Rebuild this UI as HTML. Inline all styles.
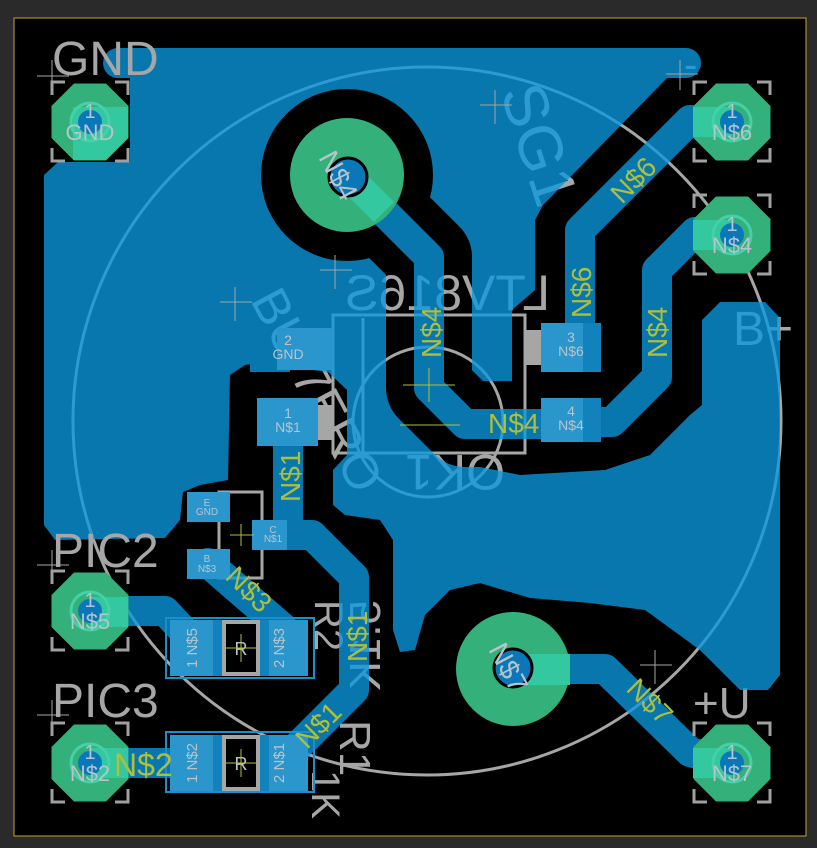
<!DOCTYPE html>
<html><head><meta charset="utf-8"><style>
html,body{margin:0;padding:0;background:#2a2a2a;}
svg{display:block;}
text{font-family:"Liberation Sans",sans-serif;}
</style></head><body>
<svg width="817" height="848" viewBox="0 0 817 848" xmlns="http://www.w3.org/2000/svg">
<defs>
<mask id="cu">
  <rect x="0" y="0" width="817" height="848" fill="black"/>
  <line x1="118" y1="63" x2="686" y2="63" stroke="white" stroke-width="30" stroke-linecap="round"/>
  <polygon fill="white" points="44,175 58,162 130,162 130,78 667,78 543,205 535,220 535,290 512,310 512,385 455,385 455,462 520,475 605,470 650,455 690,415 702,405 702,320 720,302 765,302 780,318 780,675 768,690 740,690 700,650 645,610 590,603 530,598 480,583 450,590 425,615 415,650 400,652 393,630 393,540 380,520 345,515 333,505 333,470 347,455 347,390 328,372 258,363 245,365 230,375 228,480 200,485 183,492 180,520 165,538 55,540 44,525"/>
  <circle cx="347" cy="175" r="86" fill="black"/>
  <polyline points="347,175 429,257 429,388 465,424 560,424" fill="none" stroke="black" stroke-width="86" stroke-linejoin="round"/>
  <g fill="none" stroke="white" stroke-width="30" stroke-linejoin="round" stroke-linecap="round">
    <polyline points="347,175 429,257 429,388 465,424 560,424"/>
    <polyline points="600,422 612,422 657,377 657,270 695,232 732,235"/>
    <polyline points="580,335 580,230 690,120 732,122"/>
    <polyline points="288,420 288,520"/>
    <polyline points="287,535 312,535 354,577 354,690 298,746 285,760"/>
    <polyline points="208,563 283,628"/>
    <polyline points="90,611 165,611 192,640"/>
    <polyline points="90,763 180,763"/>
    <polyline points="513,669 605,669 690,752 732,763"/>
  </g>
  <rect x="250" y="330" width="40" height="42" fill="white"/>
</mask>
</defs>

<!-- board -->
<rect x="14" y="18" width="792" height="818" fill="#000" stroke="#c8a030" stroke-width="1"/>

<!-- silkscreen (under copper) -->
<g fill="none" stroke="#a6a6a6" stroke-width="3">
  <circle cx="427" cy="421" r="354"/>
  <circle cx="428" cy="422" r="75"/>
  <rect x="333" y="315" width="192" height="138"/>
  <line x1="363" y1="318" x2="363" y2="452"/>
  <rect x="219" y="492" width="43" height="86"/>
</g>
<rect x="524" y="330" width="17" height="35" fill="#a6a6a6"/>
<rect x="318" y="405" width="15" height="35" fill="#a6a6a6"/>
<g fill="#a6a6a6" font-size="62">
  <text transform="translate(500,92) rotate(72)">SG1</text>
  <text transform="translate(885,0) scale(-1,1)" x="335" y="310" font-size="50">LTV816S</text>
  <text transform="translate(505,455) rotate(180)" font-size="50">OK1</text>
  <text transform="translate(250,300) rotate(62)" font-size="50">BU-7ERO</text>
  <text transform="translate(380,600) rotate(-90) scale(-1,1)" font-size="44">5.1K</text>
  <text transform="translate(315,600) rotate(90)" font-size="40">R2</text>
  <text transform="translate(340,720) rotate(90)" font-size="44">R1</text>
  <text transform="translate(312,770) rotate(90)" font-size="40">1K</text>
  <text x="733" y="345" font-size="48">B+</text>
  <text x="693" y="718" font-size="44">+U</text>
  <text x="684" y="78" font-size="40">-</text>
</g>

<!-- copper top layer -->
<g opacity="0.78">
  <rect x="0" y="0" width="817" height="848" fill="rgb(9,153,223)" mask="url(#cu)"/>
</g>

<!-- silk labels on top -->
<g fill="#a6a6a6">
  <text x="52" y="75" font-size="48">GND</text>
  <text x="52" y="567" font-size="48">PIC2</text>
  <text x="52" y="717" font-size="48">PIC3</text>
</g>
<g stroke="#a6a6a6" stroke-width="1" fill="none">
  <path d="M37,76h32M52,60v34M37,565h32M52,550v34M37,715h32M52,700v34M666,74h32M680,60v30M275,818"/>
  <path d="M480,105h32M495,90v34M320,270h32M335,255v34M220,302h32M235,287v34M640,665h32M655,650v34"/>
</g>

<!-- bracket outlines -->
<g fill="none" stroke="#a0a0a0" stroke-width="3">
  <path d="M52,95V82h13M115,82h13v13M128,148v13h-13M65,161H52v-13"/>
  <path d="M52,584v-13h13M115,571h13v13M128,637v13h-13M65,650H52v-13"/>
  <path d="M52,736v-13h13M115,723h13v13M128,789v13h-13M65,802H52v-13"/>
  <path d="M694,95V82h13M757,82h13v13M770,148v13h-13M707,161h-13v-13"/>
  <path d="M694,208v-13h13M757,195h13v13M770,261v13h-13M707,274h-13v-13"/>
  <path d="M694,736v-13h13M757,723h13v13M770,789v13h-13M707,802h-13v-13"/>
</g>

<!-- THT pads -->
<g fill="#34b07a">
  <polygon points="74,83.5 106,83.5 128.5,106 128.5,138 106,160.5 74,160.5 51.5,138 51.5,106"/>
  <polygon points="74,572.5 106,572.5 128.5,595 128.5,627 106,649.5 74,649.5 51.5,627 51.5,595"/>
  <polygon points="74,724.5 106,724.5 128.5,747 128.5,779 106,801.5 74,801.5 51.5,779 51.5,747"/>
  <polygon points="716,83.5 748,83.5 770.5,106 770.5,138 748,160.5 716,160.5 693.5,138 693.5,106"/>
  <polygon points="716,196.5 748,196.5 770.5,219 770.5,251 748,273.5 716,273.5 693.5,251 693.5,219"/>
  <polygon points="716,724.5 748,724.5 770.5,747 770.5,779 748,801.5 716,801.5 693.5,779 693.5,747"/>
  <circle cx="347" cy="175" r="57"/>
  <circle cx="513" cy="669" r="57"/>
</g>
<g fill="#33c8a0">
  <polygon points="73,107 128,107 128,138 106,160 73,160"/>
  <polygon points="90,597 128,597 128,627 90,627"/>
  <polygon points="90,748 128,748 128,778 90,778"/>
  <polygon points="693,107 732,107 732,137 693,137"/>
  <polygon points="693,220 732,220 732,250 693,250"/>
  <polygon points="693,748 732,748 732,778 693,778"/>
  <polygon points="337,185 357,165 394,202 374,222"/>
  <rect x="513" y="654" width="57" height="31"/>
</g>
<g fill="none" stroke="#45d0a8" stroke-width="3">
  <circle cx="90" cy="122" r="19"/><circle cx="90" cy="611" r="19"/><circle cx="90" cy="763" r="19"/>
  <circle cx="732" cy="122" r="19"/><circle cx="732" cy="235" r="19"/><circle cx="732" cy="763" r="19"/>
</g>
<g fill="#0a78b8">
  <circle cx="90" cy="122" r="12"/><circle cx="90" cy="611" r="12"/><circle cx="90" cy="763" r="12"/>
  <circle cx="732" cy="122" r="12"/><circle cx="732" cy="235" r="12"/><circle cx="732" cy="763" r="12"/>
</g>
<circle cx="348" cy="177" r="19" fill="#0a78b8" stroke="#000" stroke-width="3"/>
<circle cx="513" cy="668" r="19" fill="#0a78b8" stroke="#000" stroke-width="3"/>

<!-- SMD pads -->
<g fill="#2a96cc">
  <rect x="277" y="328" width="56" height="42"/>
  <rect x="257" y="398" width="61" height="48"/>
  <rect x="541" y="323" width="60" height="49"/>
  <rect x="541" y="398" width="60" height="44"/>
  <rect x="187" y="492" width="43" height="30"/>
  <rect x="187" y="549" width="43" height="30"/>
  <rect x="252" y="520" width="35" height="30"/>
  <rect x="170" y="620" width="52" height="56"/>
  <rect x="260" y="620" width="48" height="56"/>
  <rect x="170" y="735" width="52" height="56"/>
  <rect x="260" y="735" width="48" height="56"/>
</g>
<g fill="#1282bd">
  <rect x="583" y="323" width="18" height="49"/>
  <rect x="583" y="398" width="18" height="44"/>
  <rect x="213" y="620" width="10" height="56"/>
  <rect x="259" y="620" width="10" height="56"/>
  <rect x="213" y="735" width="10" height="56"/>
  <rect x="259" y="735" width="10" height="56"/>
</g>
<g fill="#000" stroke="#a6a6a6" stroke-width="4">
  <rect x="224" y="622" width="34" height="52"/>
  <rect x="224" y="737" width="34" height="52"/>
</g>
<g fill="none" stroke="#1a8fd0" stroke-width="2">
  <rect x="166" y="618" width="148" height="60"/>
  <rect x="166" y="732" width="148" height="60"/>
</g>

<!-- pad labels -->
<g fill="#b8c4cc" text-anchor="middle">
  <text x="90" y="118" font-size="20">1</text><text x="90" y="140" font-size="22">GND</text>
  <text x="90" y="607" font-size="20">1</text><text x="90" y="629" font-size="22">N$5</text>
  <text x="90" y="759" font-size="20">1</text><text x="90" y="781" font-size="22">N$2</text>
  <text x="732" y="118" font-size="20">1</text><text x="732" y="140" font-size="22">N$6</text>
  <text x="732" y="231" font-size="20">1</text><text x="732" y="253" font-size="22">N$4</text>
  <text x="732" y="759" font-size="20">1</text><text x="732" y="781" font-size="22">N$7</text>
  <text x="288" y="345" font-size="14">2</text><text x="288" y="359" font-size="14">GND</text>
  <text x="288" y="418" font-size="14">1</text><text x="288" y="432" font-size="14">N$1</text>
  <text x="571" y="342" font-size="14">3</text><text x="571" y="356" font-size="14">N$6</text>
  <text x="571" y="416" font-size="14">4</text><text x="571" y="430" font-size="14">N$4</text>
  <text x="207" y="506" font-size="10">E</text><text x="207" y="515" font-size="10">GND</text>
  <text x="207" y="562" font-size="10">B</text><text x="207" y="572" font-size="10">N$3</text>
  <text x="273" y="533" font-size="10">C</text><text x="273" y="542" font-size="10">N$1</text>
  <text transform="translate(197,648) rotate(-90)" font-size="15">1 N$5</text>
  <text transform="translate(284,648) rotate(-90)" font-size="15">2 N$3</text>
  <text transform="translate(197,763) rotate(-90)" font-size="15">1 N$2</text>
  <text transform="translate(284,763) rotate(-90)" font-size="15">2 N$1</text>
  <text transform="translate(330,180) rotate(62)" font-size="28">N$4</text>
  <text transform="translate(500,672) rotate(62)" font-size="28">N$7</text>
  <text x="241" y="655" font-size="18">R</text>
  <text x="241" y="770" font-size="18">R</text>
</g>

<!-- net labels -->
<g fill="#b0bf3a" font-size="28">
  <text transform="translate(622,205) rotate(-45)">N$6</text>
  <text transform="translate(591,318) rotate(-90)">N$6</text>
  <text transform="translate(441,358) rotate(-90)">N$4</text>
  <text transform="translate(667,358) rotate(-90)">N$4</text>
  <text x="488" y="433">N$4</text>
  <text transform="translate(300,502) rotate(-90)">N$1</text>
  <text transform="translate(224,578) rotate(45)">N$3</text>
  <text transform="translate(367,662) rotate(-90)">N$1</text>
  <text transform="translate(307,750) rotate(-45)">N$1</text>
  <text x="114" y="776" font-size="32">N$2</text>
  <text transform="translate(625,690) rotate(45)">N$7</text>
</g>
<g stroke="#b0bf3a" stroke-width="1">
  <path d="M403,385h52M429,368v34M400,425h60M230,535h24M241,524v22M226,648h30M241,634v28M226,763h30M241,749v28"/>
</g>
</svg>
</body></html>
